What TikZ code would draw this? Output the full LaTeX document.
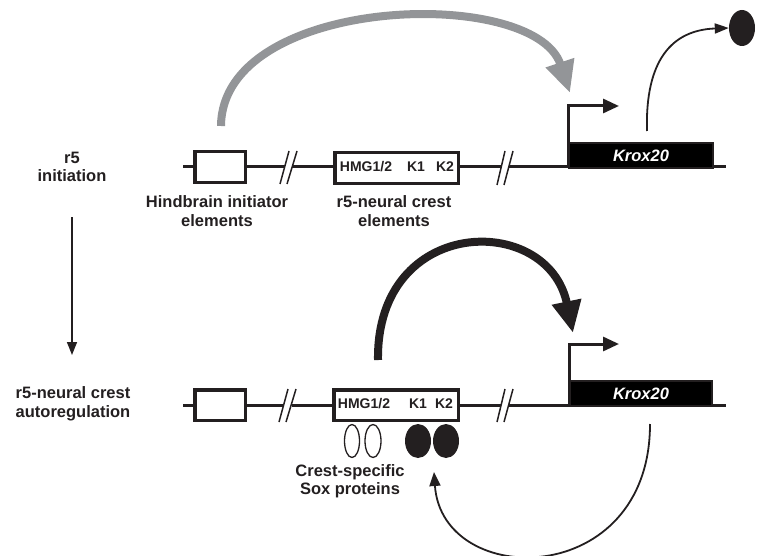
\documentclass[tikz,border=0pt]{standalone}
\usepackage{fontspec}
\setmainfont{Liberation Sans}
\usetikzlibrary{arrows.meta,shapes.geometric}
\definecolor{ink}{HTML}{231F20}
\definecolor{arcgray}{HTML}{939598}
\begin{document}
\begin{tikzpicture}[x=1pt,y=-1pt,
  lbl/.style={font=\bfseries\fontsize{16.5}{18.5}\selectfont, text=ink, align=center, inner sep=0pt},
  boxlbl/.style={font=\bfseries\fontsize{14}{16}\selectfont, text=ink, inner sep=0pt},
  elem/.style={draw=ink, line width=3.5pt, fill=white, inner sep=0pt},
  gene/.style={draw=ink, line width=2pt, fill=black, inner sep=0pt, text=white, font=\bfseries\itshape\fontsize{16.5}{18}\selectfont},
  dna/.style={draw=ink, line width=3pt},
  brk/.style={draw=ink, line width=1.5pt},
  prom/.style={draw=ink, line width=3pt, -{Triangle[length=16pt,width=14pt]}},
  thin/.style={draw=ink, line width=1.8pt, -{Triangle[length=14pt,width=10pt]}},
  sox/.style={ellipse, draw=ink, line width=1.3pt, inner sep=0pt},
  soxf/.style={ellipse, fill=ink, inner sep=0pt}]
\useasboundingbox (0,0) rectangle (762,556);

% ---------- top row ----------
\draw[dna] (183,167) -- (284.5,167);
\draw[dna] (292,167) -- (501,167);
\draw[dna] (508.5,167) -- (726,167);
\draw[brk] (280,184) -- (289,151);
\draw[brk] (287,184) -- (297,151);
\draw[brk] (497,185) -- (505,151);
\draw[brk] (504,185) -- (513,151);
\node[elem, minimum width=50.5pt, minimum height=30.5pt] (ini1) at (220,167) {};
\node[elem, minimum width=123.5pt, minimum height=30.5pt] (nc1) at (396.5,168) {};
\node[boxlbl] (hmg1) at (366,167) {HMG1/2};
\node[boxlbl] (ka1) at (416,167) {K1};
\node[boxlbl] (kb1) at (445,167) {K2};
\node[gene, minimum width=144pt, minimum height=25pt] (krox1) at (641,155.5) {Krox20};
\coordinate (p1a) at (568,168);
\coordinate (p1b) at (619,106);
\draw[prom] (p1a) |- (p1b);

\node[lbl] (hind) at (217,211) {Hindbrain initiator\\elements};
\node[lbl] (r5el) at (394,211) {r5-neural crest\\elements};

% gray initiation arrow
\coordinate (g0) at (221,126);
\coordinate (g1) at (570,93);
\draw[arcgray, line width=8pt, -{Triangle[length=32pt,width=28pt]}]
  (g0) .. controls (222,-5) and (534,-15) .. (g1);

% protein product
\node[soxf, minimum width=26pt, minimum height=36pt] (prot) at (742,28) {};
\coordinate (t0) at (647,131);
\draw[thin] (t0) .. controls (645,60) and (672,30) .. (prot.west);

% ---------- left labels ----------
\node[lbl] (stage1) at (72,167) {r5\\initiation};
\node[lbl] (stage2) at (73,404) {r5-neural crest\\autoregulation};
\coordinate (s1) at (72,217);
\coordinate (s2) at (72,355);
\draw[draw=ink, line width=1.5pt, -{Triangle[length=13pt,width=10pt]}] (s1) -- (s2);

% ---------- bottom row ----------
\draw[dna] (183,405) -- (284,405);
\draw[dna] (291.5,405) -- (501,405);
\draw[dna] (508.5,405) -- (726,405);
\draw[brk] (279,422) -- (288,389);
\draw[brk] (286,422) -- (296,389);
\draw[brk] (497,422) -- (505,389);
\draw[brk] (504,422) -- (513,389);
\node[elem, minimum width=50.5pt, minimum height=30.5pt] (ini2) at (220,405) {};
\node[elem, minimum width=124.5pt, minimum height=30.5pt] (nc2) at (396,405) {};
\node[boxlbl] (hmg2) at (364,404) {HMG1/2};
\node[boxlbl] (ka2) at (418,404) {K1};
\node[boxlbl] (kb2) at (444,404) {K2};
\node[gene, minimum width=142pt, minimum height=25pt] (krox2) at (641,393.5) {Krox20};
\coordinate (p2a) at (569,406);
\coordinate (p2b) at (619,344);
\draw[prom] (p2a) |- (p2b);

% Sox proteins
\node[sox, minimum width=15pt, minimum height=33pt] (o1) at (352,441) {};
\node[sox, minimum width=16pt, minimum height=33pt] (o2) at (373,441) {};
\node[soxf, minimum width=26pt, minimum height=34pt] (f1) at (418,441) {};
\node[soxf, minimum width=26pt, minimum height=34pt] (f2) at (446,441) {};
\node[lbl] (soxlbl) at (350,481) {Crest-specific\\Sox proteins};

% black autoregulation arrow
\coordinate (b0) at (378,360);
\coordinate (b1) at (573,333);
\draw[ink, line width=8pt, -{Triangle[length=32pt,width=28pt]}]
  (b0) .. controls (376,215) and (548,212) .. (b1);

% feedback loop
\coordinate (l0) at (650,424);
\coordinate (l1) at (434,472);
\draw[thin, -{Triangle[length=14pt,width=11pt]}] (l0) .. controls (650,590) and (442,590) .. (l1);
\end{tikzpicture}
\end{document}
